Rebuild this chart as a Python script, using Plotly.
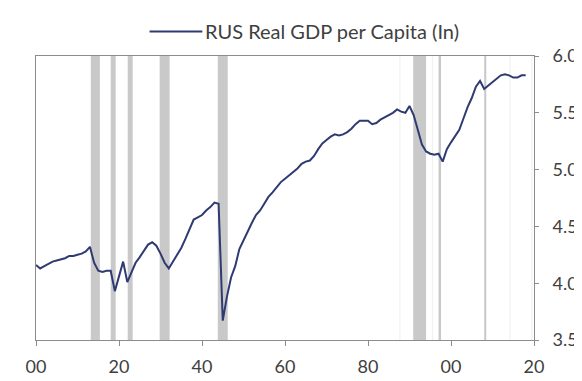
import plotly.graph_objects as go

# Annual values (log real GDP per capita)
years = list(range(1900, 2019))
gdp_ln = [
    4.16, 4.13, 4.15, 4.17, 4.19, 4.20, 4.21, 4.22, 4.24, 4.24,  # 1900s
    4.25, 4.26, 4.28, 4.32, 4.18, 4.11, 4.10, 4.11, 4.11, 3.93,  # 1910s
    4.06, 4.19, 4.01, 4.10, 4.18, 4.23, 4.28, 4.34, 4.36, 4.33,  # 1920s
    4.26, 4.18, 4.13, 4.19, 4.25, 4.31, 4.39, 4.48, 4.56, 4.58,  # 1930s
    4.60, 4.64, 4.67, 4.71, 4.70, 3.67, 3.88, 4.05, 4.15, 4.30,  # 1940s
    4.38, 4.45, 4.53, 4.60, 4.64, 4.70, 4.76, 4.80, 4.85, 4.89,  # 1950s
    4.92, 4.95, 4.98, 5.01, 5.05, 5.07, 5.08, 5.12, 5.18, 5.23,  # 1960s
    5.26, 5.29, 5.31, 5.30, 5.31, 5.33, 5.36, 5.40, 5.43, 5.43,  # 1970s
    5.43, 5.40, 5.41, 5.44, 5.46, 5.48, 5.50, 5.53, 5.51, 5.50,  # 1980s
    5.56, 5.48, 5.34, 5.22, 5.16, 5.14, 5.13, 5.14, 5.07, 5.18,  # 1990s
    5.24, 5.30, 5.35, 5.45, 5.55, 5.63, 5.73, 5.78, 5.71, 5.74,  # 2000s
    5.77, 5.80, 5.83, 5.84, 5.83, 5.81, 5.81, 5.83, 5.83,        # 2010s
]

# Recession periods (start, end) in fractional years
recessions = [
    (1913.2, 1915.4), (1918.0, 1919.2), (1922.1, 1923.3), (1929.8, 1932.2),
    (1943.8, 1946.2), (1990.9, 1994.0), (1997.0, 1997.6), (2008.0, 2008.5),
]
faint_recessions = [(1987.6, 1987.8), (1995.4, 1995.6), (2014.1, 2014.3), (2019.4, 2019.6)]

x_ticks = [1900, 1920, 1940, 1960, 1980, 2000, 2020]
x_labels = ['00', '20', '40', '60', '80', '00', '20']
y_ticks = [3.5, 4.0, 4.5, 5.0, 5.5, 6.0]

legend_label = 'RUS Real GDP per Capita (In)'
line_color = '#2f3a72'
font_family = 'Lato, "Open Sans", sans-serif'

fig = go.Figure()
fig.add_trace(go.Scatter(x=years, y=gdp_ln, mode='lines', name=legend_label,
                         line=dict(color=line_color, width=2), showlegend=False))

for x0, x1 in recessions:
    fig.add_vrect(x0=x0, x1=x1, fillcolor='#c9c9c9', line_width=0, layer='below')
for x0, x1 in faint_recessions:
    fig.add_vrect(x0=x0, x1=x1, fillcolor='#ebebeb', line_width=0, layer='below')

# legend drawn by hand so the sample line matches the original length
fig.add_shape(type='line', xref='paper', yref='paper', x0=0.228, x1=0.334, y0=1.0866, y1=1.0866,
              line=dict(color=line_color, width=2))
fig.add_annotation(text=legend_label, xref='paper', yref='paper', x=0.335, y=1.089,
                   xanchor='left', yanchor='middle', showarrow=False,
                   font=dict(size=20, color='#404040', family=font_family))

fig.update_layout(
    width=582, height=381,
    margin=dict(l=28, r=54, t=48, b=41),
    paper_bgcolor='white', plot_bgcolor='white',
    font=dict(family=font_family, size=18, color='#404040'),
    xaxis=dict(range=[1900, 2020], tickvals=x_ticks, ticktext=x_labels,
               showgrid=False, zeroline=False, showline=True, linecolor='#8c8c8c', linewidth=1,
               ticks='outside', ticklen=5, tickcolor='#8c8c8c', mirror=True,
               ticklabelstandoff=5),
    yaxis=dict(range=[3.5, 6.0], tickvals=y_ticks, tickformat='.1f', side='right',
               showgrid=False, zeroline=False, showline=True, linecolor='#8c8c8c', linewidth=1,
               ticks='outside', ticklen=4, tickcolor='#8c8c8c', mirror=True,
               ticklabelstandoff=10),
)

fig.write_html("out.html")
